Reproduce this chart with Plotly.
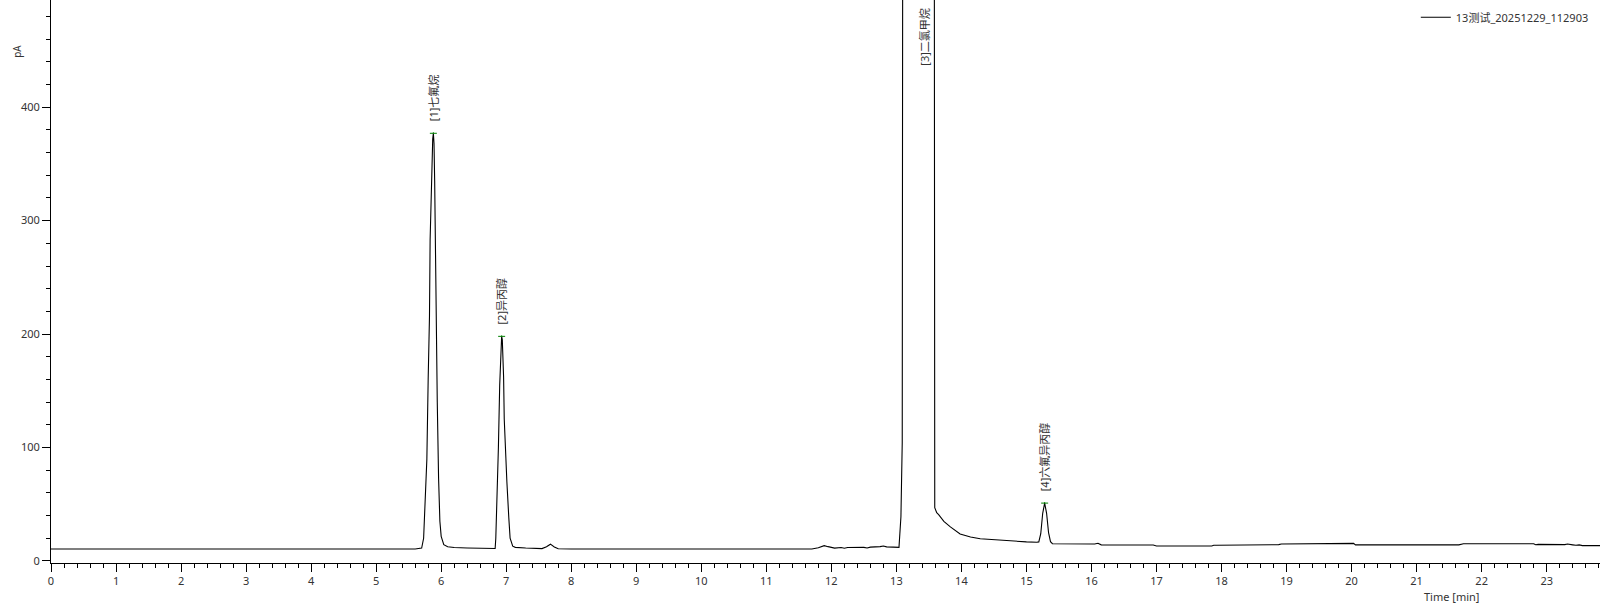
import plotly.graph_objects as go

# chromatogram trace
time_min = [0.00, 5.60, 5.70, 5.73, 5.75, 5.78, 5.80, 5.82, 5.83, 5.85, 5.87, 5.88,
            5.89, 5.90, 5.91, 5.92, 5.94, 5.96, 5.98, 6.00, 6.04, 6.10, 6.20, 6.40,
            6.80, 6.83, 6.84, 6.86, 6.88, 6.90, 6.92, 6.93, 6.94, 6.96, 6.97, 6.99,
            7.01, 7.04, 7.06, 7.10, 7.14, 7.30, 7.55, 7.62, 7.68, 7.74, 7.80, 8.00,
            11.70, 11.80, 11.89, 11.95, 12.00, 12.05, 12.15, 12.20, 12.25, 12.40,
            12.50, 12.55, 12.60, 12.75, 12.80, 12.85, 12.90, 12.95, 13.04, 13.07,
            13.09, 13.10, 13.12, 13.35, 13.55, 13.58, 13.59, 13.62, 13.65, 13.73,
            13.83, 13.98, 14.14, 14.29, 14.50, 14.65, 14.70, 14.80, 15.00, 15.16,
            15.19, 15.22, 15.25, 15.28, 15.31, 15.34, 15.37, 15.40, 15.60, 16.05,
            16.10, 16.15, 16.95, 17.00, 17.85, 17.88, 17.92, 18.85, 18.88, 18.92,
            20.00, 20.03, 20.06, 21.65, 21.72, 22.80, 22.83, 22.87, 23.28, 23.32,
            23.40, 23.45, 23.50, 23.55, 23.82]
signal_pA = [10.6, 10.6, 11.4, 20, 48, 90, 160, 215, 283, 345, 372, 377,
             368, 335, 283, 215, 140, 73, 35, 21.7, 14.4, 12.5, 11.8, 11.4,
             11.2, 11.0, 20, 55, 100, 155, 190, 198, 195, 162, 125, 95,
             70, 38, 20, 13, 12, 11.4, 10.9, 12.5, 14.8, 12.3, 10.7, 10.6,
             10.6, 11.6, 13.5, 12.6, 11.8, 11.3, 11.8, 11.2, 11.8, 12.0,
             12.0, 11.4, 12.2, 12.6, 13.2, 12.4, 12.5, 12.2, 12.0, 39,
             104, 600, 2000, 3000, 2000, 800, 47, 42.5, 40.8, 34.9,
             30, 23.8, 21.1, 19.6, 18.8, 18.2, 17.6, 17.0, 16.8, 16.5,
             16.8, 24, 42, 51, 42, 25, 17, 15.2, 15.0, 15.0,
             15.6, 14.2, 14.1, 13.2, 13.2, 13.8, 13.8, 13.8, 14.4, 15.0,
             15.0, 15.5, 14.2, 14.2, 15.2, 15.2, 14.3, 14.6, 14.4, 14.9,
             14.2, 13.8, 14.2, 13.5, 13.5]

# integrated peaks (peak 3 is off scale)
peak_names = ["[1]七氟烷", "[2]异丙醇", "[3]二氯甲烷", "[4]六氟异丙醇"]
peak_times = [5.88, 6.93, 13.42, 15.28]
peak_heights = [377, 198, None, 51]

series_name = "13测试_20251229_112903"

FONT = "Noto Sans, Noto Sans CJK SC, sans-serif"
TXT = "#333333"

fig = go.Figure()

fig.add_trace(go.Scatter(
    x=time_min, y=signal_pA,
    mode="lines",
    line=dict(color="black", width=1.1),
    name=series_name,
    hoverinfo="x+y",
))

# small green cross at each on-scale apex
fig.add_trace(go.Scatter(
    x=[t for t, h in zip(peak_times, peak_heights) if h is not None],
    y=[h for h in peak_heights if h is not None],
    mode="markers",
    marker=dict(symbol="line-ew", size=5, line=dict(color="green", width=1)),
    showlegend=False,
    hoverinfo="skip",
))

for name, t, h in zip(peak_names, peak_times, peak_heights):
    if h is None:
        fig.add_annotation(x=t, y=1, xref="x", yref="paper", text=name,
                           textangle=-90, showarrow=False,
                           xanchor="center", yanchor="top", yshift=-6,
                           font=dict(family=FONT, size=11, color=TXT))
    else:
        fig.add_annotation(x=t, y=h, xref="x", yref="y", text=name,
                           textangle=-90, showarrow=False,
                           xanchor="center", yanchor="bottom", yshift=10,
                           font=dict(family=FONT, size=11, color=TXT))
        # green apex tick
        fig.add_annotation(x=t, y=h, xref="x", yref="y", text=" ",
                           showarrow=True, ax=0, ay=-10, arrowhead=0,
                           arrowwidth=1, arrowcolor="green", standoff=0)

fig.add_annotation(x=21.54, y=-0.06, xref="x", yref="paper", text="Time [min]",
                   showarrow=False, xanchor="center", yanchor="middle",
                   font=dict(family=FONT, size=11, color=TXT))
fig.add_annotation(x=0, y=0.908, xref="paper", yref="paper", text="pA",
                   textangle=-90, showarrow=False, xshift=-34,
                   xanchor="center", yanchor="middle",
                   font=dict(family=FONT, size=10, color=TXT))

fig.update_layout(
    width=1600, height=616,
    margin=dict(l=51, r=0, t=0, b=53),
    paper_bgcolor="white", plot_bgcolor="white",
    font=dict(family=FONT, size=11, color=TXT),
    showlegend=True,
    legend=dict(x=0.996, y=0.995, xanchor="right", yanchor="top",
                bgcolor="rgba(0,0,0,0)", itemwidth=30,
                font=dict(family=FONT, size=11, color=TXT)),
    hovermode="closest",
)

fig.update_xaxes(
    range=[0, 23.82], showgrid=False, zeroline=False,
    showline=True, linecolor="black", linewidth=1,
    ticks="outside", ticklen=8, tickcolor="black", dtick=1, tick0=0,
    minor=dict(dtick=0.2, ticklen=4, ticks="outside", tickcolor="black"),
)
fig.update_yaxes(
    range=[-1.8, 494.5], showgrid=False, zeroline=False,
    showline=True, linecolor="black", linewidth=1,
    ticks="outside", ticklen=8, tickcolor="black", dtick=100, tick0=0,
    minor=dict(dtick=20, ticklen=4, ticks="outside", tickcolor="black"),
)

# page body has a default margin; drop it so the figure sits at the window edge
fig.write_html("out.html", config={"displayModeBar": False},
               post_script="document.body.style.margin='0';")
